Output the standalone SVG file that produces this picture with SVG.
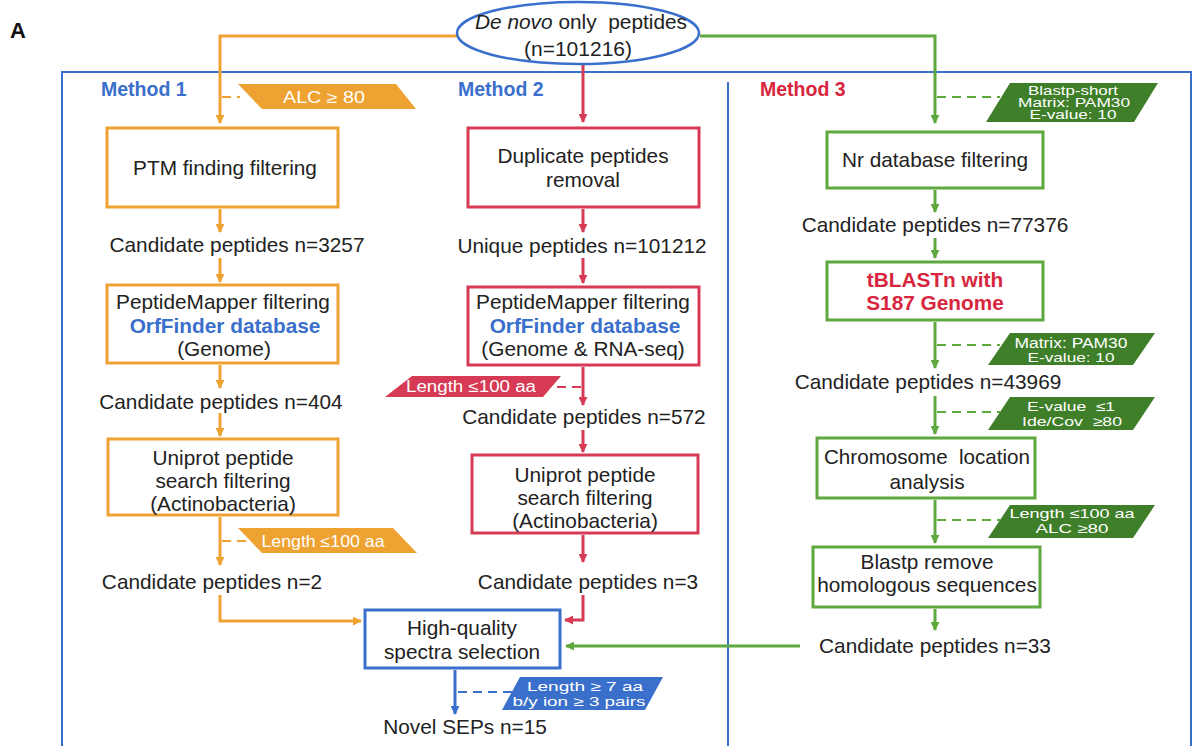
<svg xmlns="http://www.w3.org/2000/svg" width="1197" height="746" viewBox="0 0 1197 746">
<defs>
<style>
text{font-family:"Liberation Sans",Arial,sans-serif;fill:#222;white-space:pre;}
.t{font-size:20.8px;text-anchor:middle;}
.b{font-weight:bold;}
.bl{fill:#3A6FCC;}
.rd{fill:#D7263D;}
.w{fill:#fff;text-anchor:middle;}
.bo{fill:#fff;stroke:#EEA232;stroke-width:3;}
.br{fill:#fff;stroke:#D63A55;stroke-width:3;}
.bg{fill:#fff;stroke:#5FA83E;stroke-width:3;}
.bb{fill:#fff;stroke:#3A6FCC;stroke-width:3;}
.co{fill:none;stroke:#EEA232;stroke-width:3;}
.cr{fill:none;stroke:#D63A55;stroke-width:3;}
.cg{fill:none;stroke:#5FA83E;stroke-width:3;}
.cb{fill:none;stroke:#3A6FCC;stroke-width:3;}
.dash{stroke-width:2;stroke-dasharray:9 6;fill:none;}
</style>
<marker id="ao" viewBox="0 0 10 10" refX="9" refY="5" markerWidth="9" markerHeight="9" markerUnits="userSpaceOnUse" orient="auto"><path d="M0,0 L10,5 L0,10 z" fill="#EEA232"/></marker>
<marker id="ar" viewBox="0 0 10 10" refX="9" refY="5" markerWidth="9" markerHeight="9" markerUnits="userSpaceOnUse" orient="auto"><path d="M0,0 L10,5 L0,10 z" fill="#D63A55"/></marker>
<marker id="ag" viewBox="0 0 10 10" refX="9" refY="5" markerWidth="9" markerHeight="9" markerUnits="userSpaceOnUse" orient="auto"><path d="M0,0 L10,5 L0,10 z" fill="#5FA83E"/></marker>
<marker id="ab" viewBox="0 0 10 10" refX="9" refY="5" markerWidth="9" markerHeight="9" markerUnits="userSpaceOnUse" orient="auto"><path d="M0,0 L10,5 L0,10 z" fill="#3A6FCC"/></marker>
</defs>
<rect width="1197" height="746" fill="#fff"/>
<text x="10" y="38" style="font-size:22px;font-weight:bold;fill:#111">A</text>

<!-- frame -->
<g id="frame">
<rect x="62" y="72" width="1129" height="690" fill="none" stroke="#3A6FCC" stroke-width="2"/>
<line x1="728" y1="82" x2="728" y2="746" stroke="#3A6FCC" stroke-width="2"/>
<text x="101" y="96" class="b bl" style="font-size:19.5px">Method 1</text>
<text x="458" y="96" class="b bl" style="font-size:19.5px">Method 2</text>
<text x="760" y="96" class="b rd" style="font-size:19.5px">Method 3</text>
</g>

<!-- connectors -->
<g id="connectors">
<path class="co" d="M457,36 H220 V123" marker-end="url(#ao)"/>
<path class="cg" d="M700,36 H935 V123" marker-end="url(#ag)"/>
<path class="cr" d="M583,64 V122" marker-end="url(#ar)"/>
<path class="co" d="M220,209 V232" marker-end="url(#ao)"/>
<path class="co" d="M220,258 V282" marker-end="url(#ao)"/>
<path class="co" d="M220,365 V388" marker-end="url(#ao)"/>
<path class="co" d="M220,413 V436" marker-end="url(#ao)"/>
<path class="co" d="M220,517 V565" marker-end="url(#ao)"/>
<path class="co" d="M220,595 V621 H361" marker-end="url(#ao)"/>
<line class="dash" x1="222" y1="97" x2="240" y2="97" stroke="#EEA232"/>
<line class="dash" x1="222" y1="541" x2="248" y2="541" stroke="#EEA232"/>
<path class="cr" d="M583,209 V232" marker-end="url(#ar)"/>
<path class="cr" d="M583,258 V283" marker-end="url(#ar)"/>
<path class="cr" d="M583,367 V405" marker-end="url(#ar)"/>
<path class="cr" d="M583,430 V452" marker-end="url(#ar)"/>
<path class="cr" d="M583,535 V562" marker-end="url(#ar)"/>
<path class="cr" d="M583,595 V620 H565" marker-end="url(#ar)"/>
<line class="dash" x1="581" y1="387" x2="553" y2="387" stroke="#D63A55"/>
<path class="cg" d="M935,190 V212" marker-end="url(#ag)"/>
<path class="cg" d="M935,238 V258" marker-end="url(#ag)"/>
<path class="cg" d="M935,322 V368" marker-end="url(#ag)"/>
<path class="cg" d="M935,396 V434" marker-end="url(#ag)"/>
<path class="cg" d="M935,500 V543" marker-end="url(#ag)"/>
<path class="cg" d="M935,609 V630" marker-end="url(#ag)"/>
<path class="cg" d="M800,646 H566" marker-end="url(#ag)"/>
<line class="dash" x1="937" y1="97" x2="1000" y2="97" stroke="#5FA83E"/>
<line class="dash" x1="937" y1="345" x2="1000" y2="345" stroke="#5FA83E"/>
<line class="dash" x1="937" y1="412" x2="1000" y2="412" stroke="#5FA83E"/>
<line class="dash" x1="937" y1="520" x2="1000" y2="520" stroke="#5FA83E"/>
<path class="cb" d="M455,670 V714" marker-end="url(#ab)"/>
<line class="dash" x1="458" y1="692" x2="512" y2="692" stroke="#3A6FCC"/>
</g>

<!-- start -->
<g id="start">
<ellipse cx="578" cy="33" rx="121" ry="31" fill="#fff" stroke="#3A6FCC" stroke-width="2.5"/>
<text x="581" y="29" class="t" style="font-size:21px" textLength="212" lengthAdjust="spacingAndGlyphs"><tspan font-style="italic">De novo</tspan> only  peptides</text>
<text x="578" y="56" class="t" style="font-size:21px">(n=101216)</text>
</g>

<!-- badges -->
<g id="badge-alc">
<polygon points="238,84 396,84 416,109 262,109" fill="#EEA232"/>
<text x="324" y="103" class="w" style="font-size:16px" textLength="82" lengthAdjust="spacingAndGlyphs">ALC ≥ 80</text>
</g>
<g id="badge-len1">
<polygon points="238,528 393,528 417,553 262,553" fill="#EEA232"/>
<text x="323" y="547" class="w" style="font-size:16px" textLength="123" lengthAdjust="spacingAndGlyphs">Length ≤100 aa</text>
</g>
<g id="badge-len2">
<polygon points="412,376 561,376 543,397 385,397" fill="#D63A55"/>
<text x="471" y="392" class="w" style="font-size:16px" textLength="130" lengthAdjust="spacingAndGlyphs">Length ≤100 aa</text>
</g>
<g id="badge-blastp">
<polygon points="1010,83 1158,83 1134,122 986,122" fill="#3F7F2A"/>
<text x="1073" y="95" class="w" style="font-size:12px" textLength="90" lengthAdjust="spacingAndGlyphs">Blastp-short</text>
<text x="1074" y="107" class="w" style="font-size:12px" textLength="112" lengthAdjust="spacingAndGlyphs">Matrix: PAM30</text>
<text x="1073" y="119" class="w" style="font-size:12px" textLength="87" lengthAdjust="spacingAndGlyphs">E-value: 10</text>
</g>
<g id="badge-pam">
<polygon points="1010,333 1155,333 1133,365 988,365" fill="#3F7F2A"/>
<text x="1071" y="348" class="w" style="font-size:14px" textLength="113" lengthAdjust="spacingAndGlyphs">Matrix: PAM30</text>
<text x="1071" y="362" class="w" style="font-size:13px" textLength="87" lengthAdjust="spacingAndGlyphs">E-value: 10</text>
</g>
<g id="badge-evalue">
<polygon points="1010,397 1155,397 1133,430 988,430" fill="#3F7F2A"/>
<text x="1071" y="411" class="w" style="font-size:13px" textLength="88" lengthAdjust="spacingAndGlyphs">E-value  ≤1</text>
<text x="1072" y="426" class="w" style="font-size:13px" textLength="100" lengthAdjust="spacingAndGlyphs">Ide/Cov  ≥80</text>
</g>
<g id="badge-len3">
<polygon points="1010,505 1155,505 1133,538 988,538" fill="#3F7F2A"/>
<text x="1072" y="518" class="w" style="font-size:13px" textLength="125" lengthAdjust="spacingAndGlyphs">Length ≤100 aa</text>
<text x="1072" y="533" class="w" style="font-size:13px" textLength="73" lengthAdjust="spacingAndGlyphs">ALC ≥80</text>
</g>
<g id="badge-final">
<polygon points="520,677 663,677 645,710 502,710" fill="#3A6FCC"/>
<text x="585" y="691" class="w" style="font-size:13px" textLength="116" lengthAdjust="spacingAndGlyphs">Length ≥ 7 aa</text>
<text x="579" y="706" class="w" style="font-size:13px" textLength="133" lengthAdjust="spacingAndGlyphs">b/y ion ≥ 3 pairs</text>
</g>

<!-- Method 1 nodes -->
<g id="m1-ptm">
<rect x="107" y="128" width="231" height="79" class="bo"/>
<text x="225" y="175" class="t">PTM finding filtering</text>
</g>
<text id="m1-c1" x="237" y="252" class="t">Candidate peptides n=3257</text>
<g id="m1-pm">
<rect x="107" y="285" width="231" height="78" class="bo"/>
<text x="223" y="309" class="t">PeptideMapper filtering</text>
<text x="225" y="333" class="t b bl">OrfFinder database</text>
<text x="224" y="356" class="t">(Genome)</text>
</g>
<text id="m1-c2" x="221" y="409" class="t">Candidate peptides n=404</text>
<g id="m1-uni">
<rect x="108" y="439" width="230" height="76" class="bo"/>
<text x="223" y="465" class="t">Uniprot peptide</text>
<text x="223" y="488" class="t">search filtering</text>
<text x="223" y="511" class="t">(Actinobacteria)</text>
</g>
<text id="m1-c3" x="212" y="589" class="t">Candidate peptides n=2</text>

<!-- Method 2 nodes -->
<g id="m2-dup">
<rect x="468" y="128" width="231" height="79" class="br"/>
<text x="583" y="163" class="t">Duplicate peptides</text>
<text x="583" y="187" class="t">removal</text>
</g>
<text id="m2-u" x="582" y="253" class="t">Unique peptides n=101212</text>
<g id="m2-pm">
<rect x="468" y="287" width="231" height="78" class="br"/>
<text x="583" y="309" class="t">PeptideMapper filtering</text>
<text x="585" y="333" class="t b bl">OrfFinder database</text>
<text x="583" y="356" class="t">(Genome &amp; RNA-seq)</text>
</g>
<text id="m2-c1" x="584" y="424" class="t">Candidate peptides n=572</text>
<g id="m2-uni">
<rect x="472" y="455" width="226" height="78" class="br"/>
<text x="585" y="482" class="t">Uniprot peptide</text>
<text x="585" y="505" class="t">search filtering</text>
<text x="585" y="528" class="t">(Actinobacteria)</text>
</g>
<text id="m2-c2" x="588" y="589" class="t">Candidate peptides n=3</text>

<!-- Method 3 nodes -->
<g id="m3-nr">
<rect x="827" y="132" width="216" height="56" class="bg"/>
<text x="935" y="167" class="t">Nr database filtering</text>
</g>
<text id="m3-c1" x="935" y="232" class="t">Candidate peptides n=77376</text>
<g id="m3-tb">
<rect x="827" y="262" width="216" height="58" class="bg"/>
<text x="935" y="287" class="t b rd">tBLASTn with</text>
<text x="935" y="310" class="t b rd">S187 Genome</text>
</g>
<text id="m3-c2" x="928" y="389" class="t">Candidate peptides n=43969</text>
<g id="m3-chr">
<rect x="817" y="438" width="218" height="60" class="bg"/>
<text x="927" y="464" class="t" textLength="206" lengthAdjust="spacingAndGlyphs">Chromosome  location</text>
<text x="927" y="489" class="t">analysis</text>
</g>
<g id="m3-blastp">
<rect x="813" y="547" width="227" height="60" class="bg"/>
<text x="927" y="569" class="t">Blastp remove</text>
<text x="927" y="592" class="t">homologous sequences</text>
</g>
<text id="m3-c3" x="935" y="653" class="t">Candidate peptides n=33</text>

<!-- final -->
<g id="hq">
<rect x="365" y="610" width="195" height="58" class="bb"/>
<text x="462" y="635" class="t">High-quality</text>
<text x="462" y="659" class="t">spectra selection</text>
</g>
<text id="sep" x="465" y="734" class="t">Novel SEPs n=15</text>
</svg>
